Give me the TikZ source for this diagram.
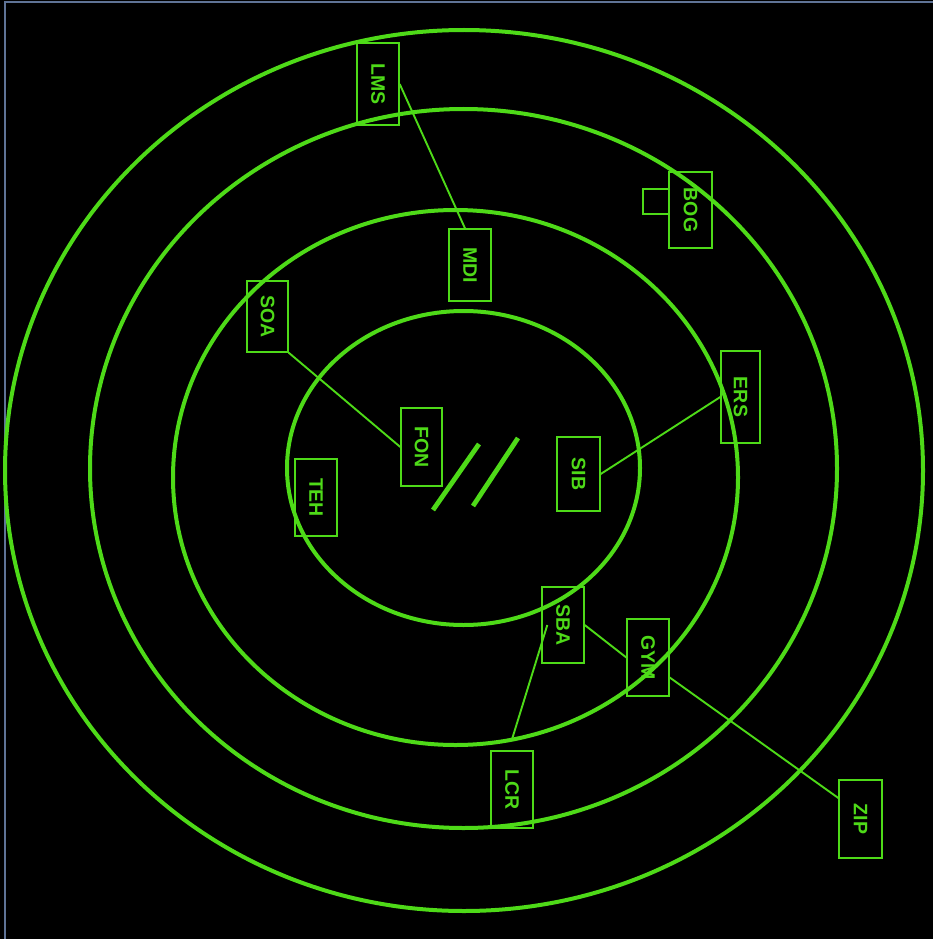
\documentclass[tikz,border=0pt]{standalone}
\usepackage{fontspec}
\setmainfont{Liberation Sans}
\usepackage{graphicx}
\definecolor{grn}{RGB}{78,218,24}
\definecolor{edge}{RGB}{95,115,150}
\begin{document}
\begin{tikzpicture}[x=1pt,y=-1pt,
  ring/.style={draw=grn, line width=4pt},
  lbl/.style={draw=grn, line width=1.4pt, text=grn, inner sep=0pt,
    font=\fontsize{19.5}{19.5}\selectfont\bfseries},
  link/.style={draw=grn, line width=1.9pt},
  slash/.style={draw=grn, line width=4.8pt}]
\fill[black] (0,0) rectangle (933,939);
\useasboundingbox (0,0) rectangle (933,939);
\draw[edge, line width=2pt] (4.5,939) -- (4.5,2) -- (933,2);
% rings
\draw[ring] (464,470.5) ellipse [x radius=459, y radius=440.5];
\draw[ring] (463.5,468.5) ellipse [x radius=373.5, y radius=359.5];
\draw[ring] (455.5,477.5) ellipse [x radius=282.5, y radius=267.5];
\draw[ring] (463.5,468) ellipse [x radius=176.5, y radius=157];
% boxes
\node[lbl, minimum width=42pt, minimum height=82pt] (LMS) at (378,84) {\rotatebox{-90}{LMS}};
\node[lbl, minimum width=42pt, minimum height=72pt] (MDI) at (470,265) {\rotatebox{-90}{MDI}};
\node[lbl, minimum width=43pt, minimum height=76pt] (BOG) at (690.5,210) {\rotatebox{-90}{BOG}};
\node[draw=grn, line width=1.4pt, minimum width=26pt, minimum height=25pt, inner sep=0pt] (BOGtab) at (656,201.5) {};
\node[lbl, minimum width=41pt, minimum height=71pt] (SOA) at (267.5,316.5) {\rotatebox{-90}{SOA}};
\node[lbl, minimum width=41pt, minimum height=78pt] (FON) at (421.5,447) {\rotatebox{-90}{FON}};
\node[lbl, minimum width=42pt, minimum height=77pt] (TEH) at (316,497.5) {\rotatebox{-90}{TEH}};
\node[lbl, minimum width=39pt, minimum height=92pt] (ERS) at (740.5,397) {\rotatebox{-90}{ERS}};
\node[lbl, minimum width=43pt, minimum height=74pt] (SIB) at (578.5,474) {\rotatebox{-90}{SIB}};
\node[lbl, minimum width=42pt, minimum height=76pt] (SBA) at (563,625) {\rotatebox{-90}{SBA}};
\node[lbl, minimum width=42pt, minimum height=77pt] (GYM) at (648,657.5) {\rotatebox{-90}{GYM}};
\node[lbl, minimum width=42pt, minimum height=77pt] (LCR) at (512,789.5) {\rotatebox{-90}{LCR}};
\node[lbl, minimum width=43pt, minimum height=78pt] (ZIP) at (860.5,819) {\rotatebox{-90}{ZIP}};
% connectors
\draw[link] (LMS.east) -- ([xshift=-5pt]MDI.north);
\draw[link] (SOA.south east) -- (FON.west);
\draw[link] (SIB.east) -- (ERS.west);
\draw[link] (SBA.east) -- (GYM.west);
\draw[link] ([xshift=6pt]SBA.west) -- ([yshift=11pt]LCR.north);
\draw[link] ([yshift=-20pt]GYM.east) -- ([yshift=21pt]ZIP.west);
% slashes
\draw[slash] (433,510) -- (479,444);
\draw[slash] (473,506) -- (518,438);
\end{tikzpicture}
\end{document}
